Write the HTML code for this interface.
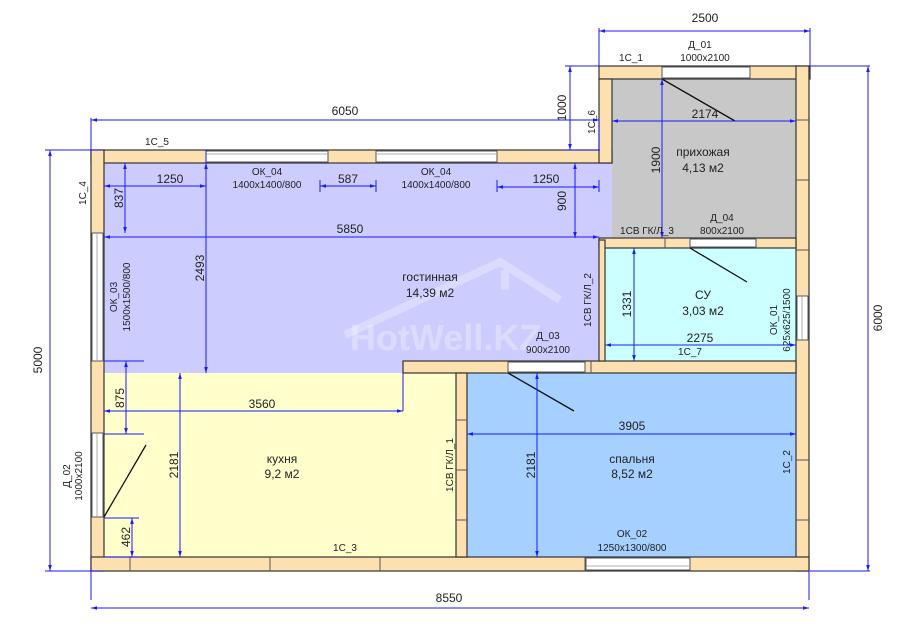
<!DOCTYPE html>
<html><head><meta charset="utf-8"><style>
html,body{margin:0;padding:0;background:#fff;}
svg{display:block;}
text{font-family:"Liberation Sans","DejaVu Sans",sans-serif;fill:#222;}
</style></head><body>
<svg width="905" height="626" viewBox="0 0 905 626" xmlns="http://www.w3.org/2000/svg">
<defs>
<marker id="a" viewBox="0 0 10 10" refX="10" refY="5" markerWidth="6" markerHeight="6" orient="auto-start-reverse"><path d="M0,2 L10,5 L0,8z" fill="#1a1aff"/></marker>
</defs>
<rect x="104" y="163" width="495" height="210" fill="#ccccff"/>
<rect x="599" y="163" width="13" height="77" fill="#ccccff"/>
<rect x="612" y="79" width="184" height="159" fill="#c8c8c8"/>
<rect x="605" y="248" width="191" height="113" fill="#ccffff"/>
<rect x="104" y="373" width="352" height="184" fill="#ffffcc"/>
<rect x="467" y="373" width="329" height="184" fill="#a6d0ff"/>
<g opacity="0.3" fill="none" stroke="#fff" stroke-width="8">
<path d="M345,335 L500,262 L560,300"/>
<path d="M505,270 L505,290"/>
</g>
<text x="350" y="350" font-size="36" font-weight="bold" opacity="0.3" style="fill:#fff">HotWell.KZ</text>
<g fill="#fde0b0" stroke="#333" stroke-width="1.2">
<rect x="91" y="150" width="521" height="13"/>
<rect x="599" y="66" width="211" height="13"/>
<rect x="599" y="79" width="13" height="84"/>
<rect x="91" y="150" width="13" height="421"/>
<rect x="796" y="66" width="13" height="505"/>
<rect x="91" y="557" width="718" height="14"/>
<rect x="403" y="361" width="393" height="12"/>
<rect x="599" y="238" width="197" height="10"/>
<rect x="599" y="240" width="6" height="121"/>
<rect x="456" y="373" width="11" height="184"/>
</g>
<g stroke="#555" stroke-width="1">
<path d="M206,150v13M328,150v13M376,150v13M497,150v13M662,66v13M750,66v13M91,233h13M91,361h13M91,433h13M91,517h13M585,557v14M690,557v14M796,296h13M796,340h13M508,361v12M585,361v12M690,238v10M756,238v10M130,557v14M270,557v14M380,557v14M591,361v12M665,238v10M456,420h11M456,470h11M456,520h11M796,120h13M796,180h13M796,250h13M796,460h13M796,520h13"/>
</g>
<g fill="#fff" stroke="#555" stroke-width="1">
<rect x="206" y="151" width="122" height="11"/>
<rect x="376" y="151" width="121" height="11"/>
<rect x="662" y="67" width="88" height="11"/>
<rect x="92" y="233" width="11" height="128"/>
<rect x="92" y="433" width="11" height="84"/>
<rect x="586" y="558" width="104" height="12"/>
<rect x="797" y="296" width="11" height="44"/>
<rect x="508" y="362" width="77" height="10"/>
<rect x="690" y="239" width="66" height="8"/>
</g>
<g stroke="#999" stroke-width="0.8"><path d="M206,154h122M376,154h121M97,233v128M97,433v84M586,566h104M802,296v44"/></g>
<g stroke="#111" stroke-width="1.3">
<path d="M662,79 L735,121"/>
<path d="M690,248 L747,282"/>
<path d="M508,373 L574,411"/>
<path d="M104,517 L146,445"/>
</g>
<g stroke="#1a1aff" stroke-width="1" fill="none">
<path d="M599,28v38M810,28v38M91,118v32M599,118v32M91,600v-30M809,600v-30M45,150h55M45,571h55M870,66h-60M870,571h-60M565,66h35M565,150h35"/>
<path d="M599,31H810" marker-start="url(#a)" marker-end="url(#a)"/>
<path d="M91,120H599" marker-start="url(#a)" marker-end="url(#a)"/>
<path d="M91,608H809" marker-start="url(#a)" marker-end="url(#a)"/>
<path d="M50,150V571" marker-start="url(#a)" marker-end="url(#a)"/>
<path d="M868,66V571" marker-start="url(#a)" marker-end="url(#a)"/>
<path d="M570,66V150" marker-start="url(#a)" marker-end="url(#a)"/>
<path d="M104,186H206" marker-start="url(#a)" marker-end="url(#a)"/>
<path d="M320,186H376" marker-start="url(#a)" marker-end="url(#a)"/>
<path d="M497,187H599" marker-start="url(#a)" marker-end="url(#a)"/>
<path d="M104,237H599" marker-start="url(#a)" marker-end="url(#a)"/>
<path d="M125,163V233" marker-start="url(#a)" marker-end="url(#a)"/>
<path d="M206,163V373" marker-start="url(#a)" marker-end="url(#a)"/>
<path d="M206,150v13M320,180v12M376,180v12M497,180v12M599,180v12"/>
<path d="M575,163V238" marker-start="url(#a)" marker-end="url(#a)"/>
<path d="M612,121H796" marker-start="url(#a)" marker-end="url(#a)"/>
<path d="M662,79V238" marker-start="url(#a)" marker-end="url(#a)"/>
<path d="M634,248V361" marker-start="url(#a)" marker-end="url(#a)"/>
<path d="M605,345H796" marker-start="url(#a)" marker-end="url(#a)"/>
<path d="M104,411H403" marker-start="url(#a)" marker-end="url(#a)"/>
<path d="M403,373v38"/>
<path d="M126,361V434" marker-start="url(#a)" marker-end="url(#a)"/>
<path d="M104,361h40M104,434h40M104,518h35M104,557h35"/>
<path d="M180,373V557" marker-start="url(#a)" marker-end="url(#a)"/>
<path d="M132,518V557" marker-start="url(#a)" marker-end="url(#a)"/>
<path d="M467,434H796" marker-start="url(#a)" marker-end="url(#a)"/>
<path d="M537,373V557" marker-start="url(#a)" marker-end="url(#a)"/>
</g>
<g font-size="12" text-anchor="middle">
<text x="705" y="22">2500</text>
<text x="345" y="115">6050</text>
<text x="449" y="602">8550</text>
<text x="0" y="0" transform="translate(42,360) rotate(-90)">5000</text>
<text x="0" y="0" transform="translate(882,318) rotate(-90)">6000</text>
<text x="0" y="0" transform="translate(566,108) rotate(-90)">1000</text>
<text x="170" y="183">1250</text>
<text x="348" y="183">587</text>
<text x="546" y="183">1250</text>
<text x="350" y="233">5850</text>
<text x="0" y="0" transform="translate(123,198) rotate(-90)">837</text>
<text x="0" y="0" transform="translate(204,268) rotate(-90)">2493</text>
<text x="0" y="0" transform="translate(566,201) rotate(-90)">900</text>
<text x="705" y="118">2174</text>
<text x="0" y="0" transform="translate(660,160) rotate(-90)">1900</text>
<text x="0" y="0" transform="translate(631,304) rotate(-90)">1331</text>
<text x="700" y="342">2275</text>
<text x="262" y="408">3560</text>
<text x="0" y="0" transform="translate(124,398) rotate(-90)">875</text>
<text x="0" y="0" transform="translate(178,465) rotate(-90)">2181</text>
<text x="0" y="0" transform="translate(130,537) rotate(-90)">462</text>
<text x="632" y="430">3905</text>
<text x="0" y="0" transform="translate(535,465) rotate(-90)">2181</text>
</g>
<g font-size="10" text-anchor="middle">
<text x="700" y="48">Д_01</text>
<text x="705" y="61">1000x2100</text>
<text x="631" y="61">1С_1</text>
<text x="157" y="145">1С_5</text>
<text x="267" y="175">ОК_04</text>
<text x="267" y="188">1400x1400/800</text>
<text x="436" y="175">ОК_04</text>
<text x="436" y="188">1400x1400/800</text>
<text x="0" y="0" transform="translate(86,193) rotate(-90)">1С_4</text>
<text x="0" y="0" transform="translate(595,122) rotate(-90)">1С_6</text>
<text x="647" y="234">1СВ ГК/Л_3</text>
<text x="722" y="221">Д_04</text>
<text x="722" y="234">800x2100</text>
<text x="0" y="0" transform="translate(117,297) rotate(-90)">ОК_03</text>
<text x="0" y="0" transform="translate(130,297) rotate(-90)">1500x1500/800</text>
<text x="0" y="0" transform="translate(591,300) rotate(-90)">1СВ ГК/Л_2</text>
<text x="548" y="339">Д_03</text>
<text x="548" y="353">900x2100</text>
<text x="690" y="355">1С_7</text>
<text x="0" y="0" transform="translate(777,320) rotate(-90)">ОК_01</text>
<text x="0" y="0" transform="translate(790,320) rotate(-90)">625x625/1500</text>
<text x="0" y="0" transform="translate(70,476) rotate(-90)">Д_02</text>
<text x="0" y="0" transform="translate(82,476) rotate(-90)">1000x2100</text>
<text x="0" y="0" transform="translate(453,465) rotate(-90)">1СВ ГК/Л_1</text>
<text x="0" y="0" transform="translate(790,462) rotate(-90)">1С_2</text>
<text x="345" y="551">1С_3</text>
<text x="632" y="537">ОК_02</text>
<text x="632" y="551">1250x1300/800</text>
</g>
<g font-size="12" text-anchor="middle">
<text x="703" y="156">прихожая</text>
<text x="703" y="172">4,13 м2</text>
<text x="430" y="281">гостинная</text>
<text x="430" y="297">14,39 м2</text>
<text x="703" y="299">СУ</text>
<text x="703" y="315">3,03 м2</text>
<text x="282" y="463">кухня</text>
<text x="282" y="478">9,2 м2</text>
<text x="632" y="463">спальня</text>
<text x="632" y="478">8,52 м2</text>
</g>
</svg>
</body></html>
